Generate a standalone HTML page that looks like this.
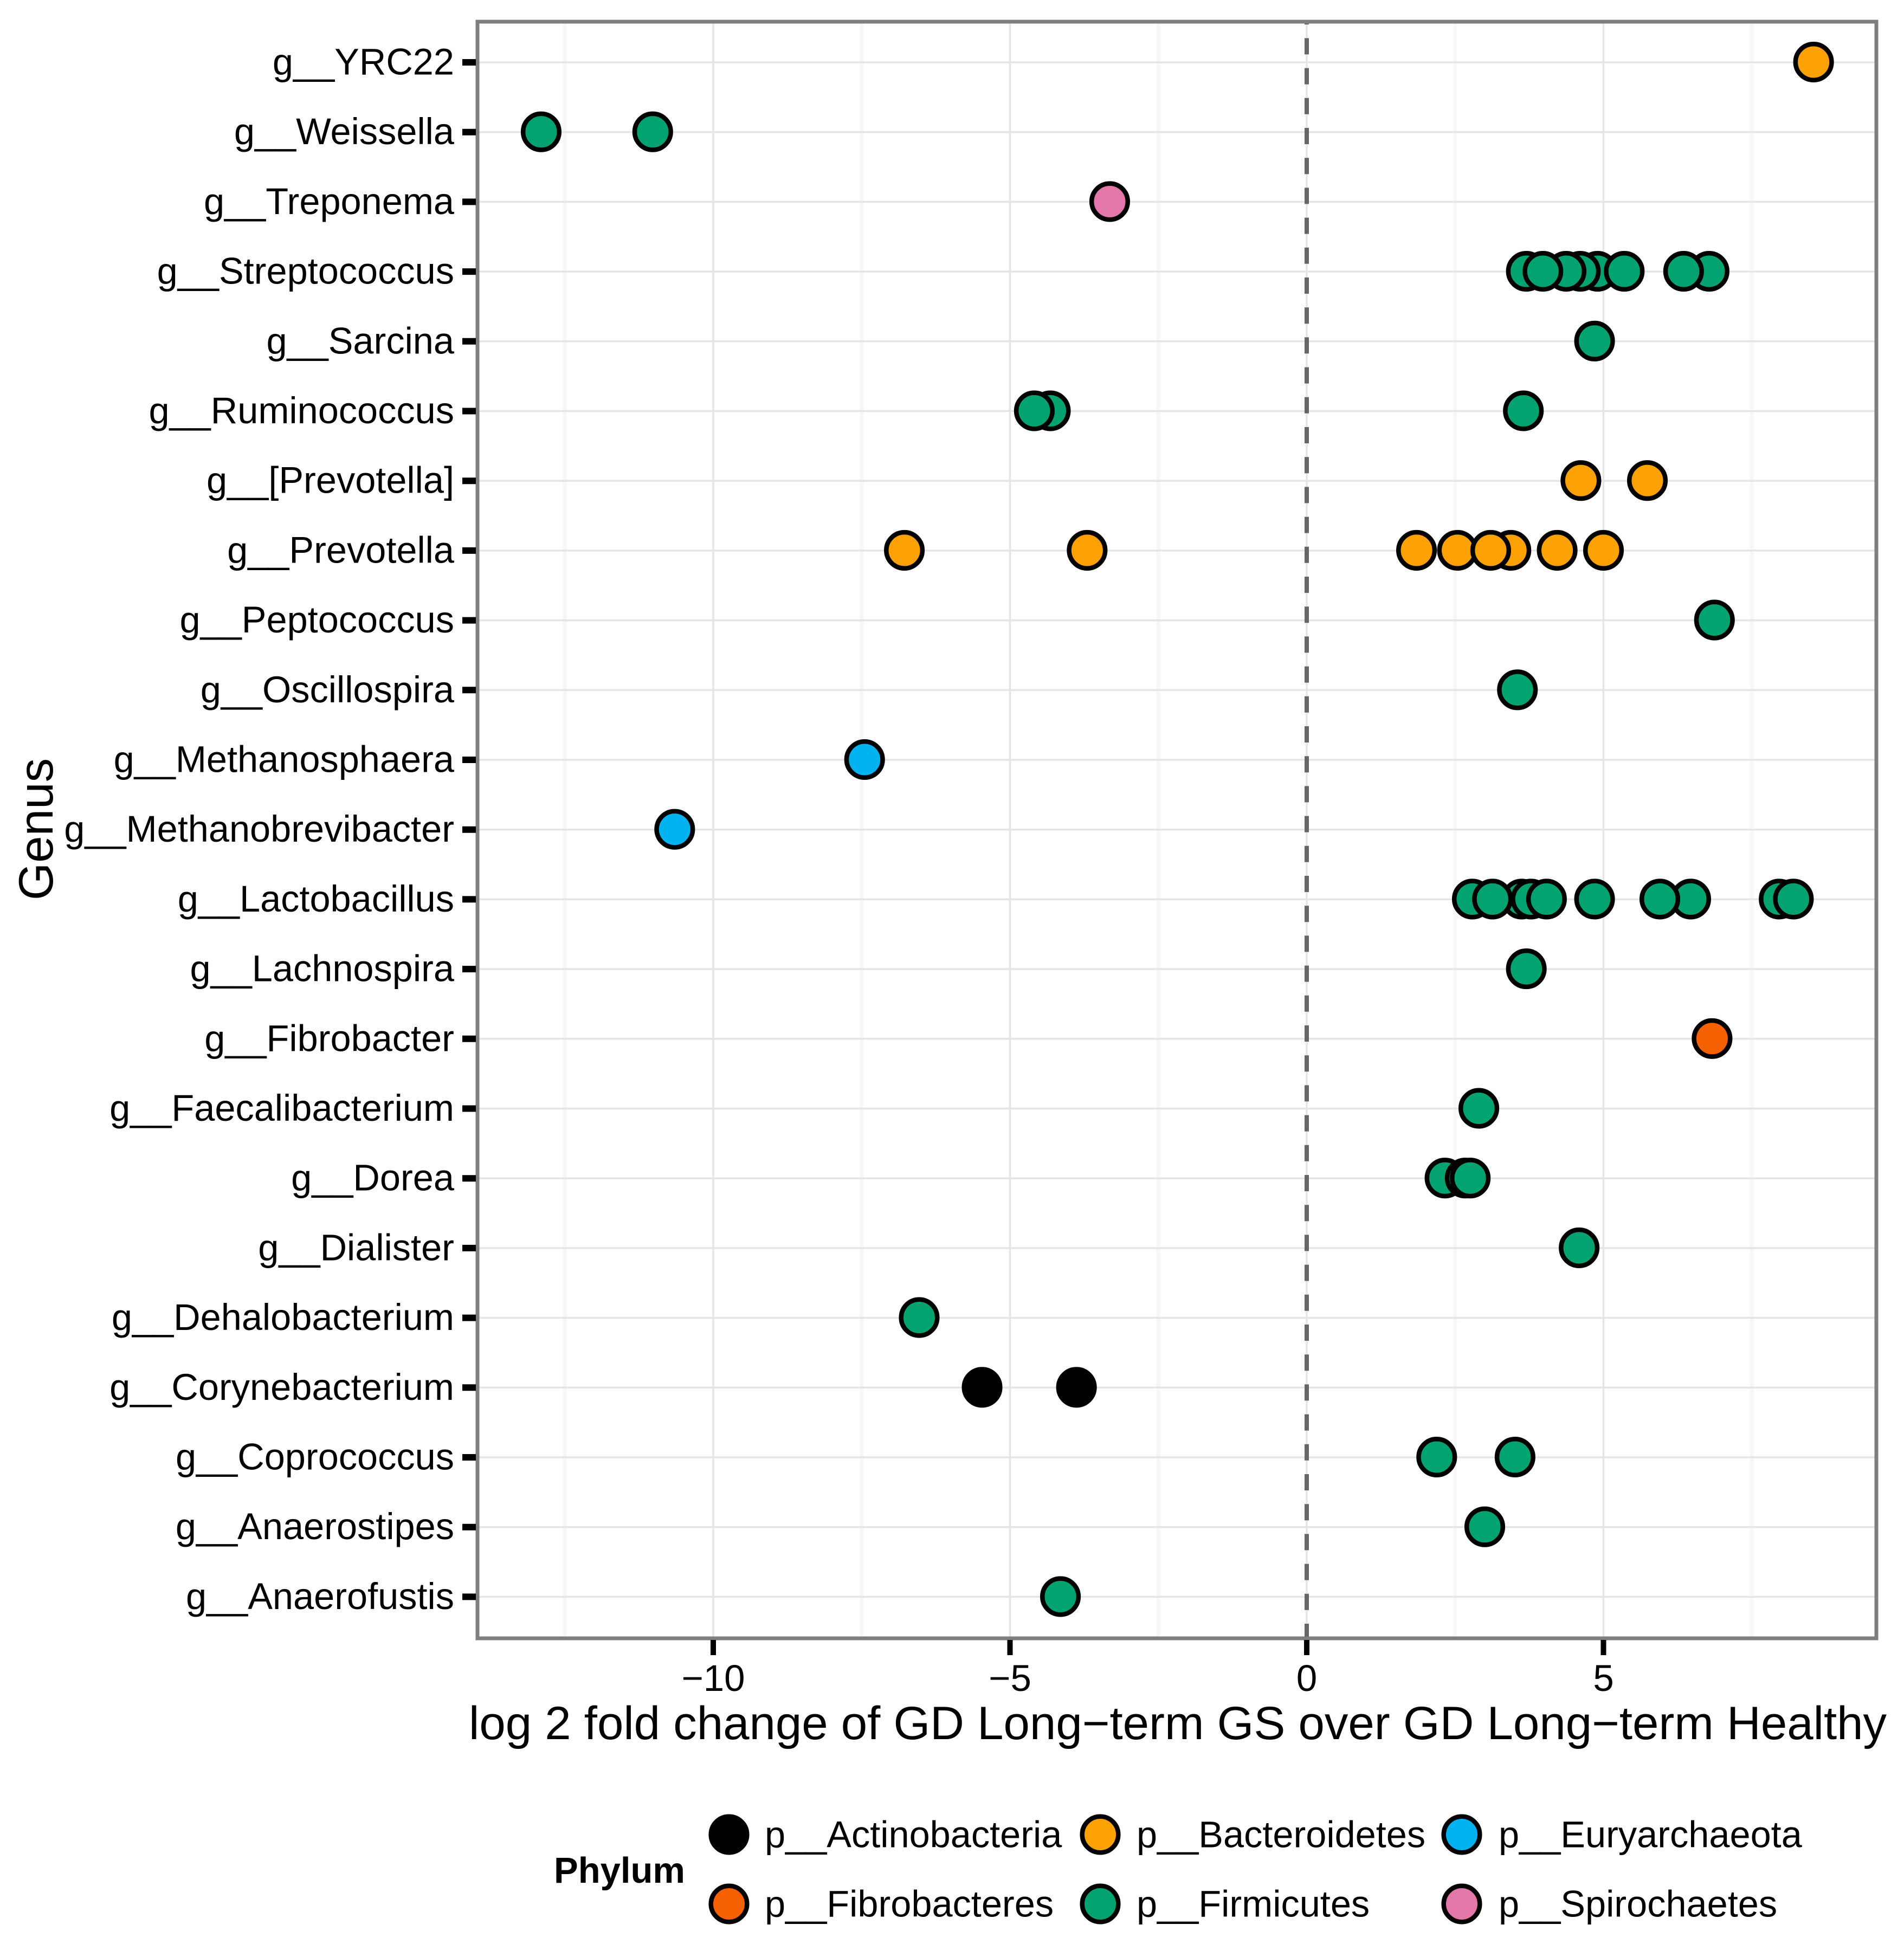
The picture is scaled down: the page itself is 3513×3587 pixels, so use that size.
<!DOCTYPE html>
<html lang="en">
<head>
<meta charset="utf-8">
<title>Log 2 fold change by genus</title>
<style>
html,body{margin:0;padding:0;background:#fff}
svg{display:block}
text{font-family:"Liberation Sans",sans-serif;fill:#000}
</style>
</head>
<body>
<svg id="chart" xmlns="http://www.w3.org/2000/svg" width="3513" height="3587" viewBox="0 0 3513 3587"></svg>
<script>
const genusLabels = ["g__YRC22","g__Weissella","g__Treponema","g__Streptococcus","g__Sarcina","g__Ruminococcus","g__[Prevotella]","g__Prevotella","g__Peptococcus","g__Oscillospira","g__Methanosphaera","g__Methanobrevibacter","g__Lactobacillus","g__Lachnospira","g__Fibrobacter","g__Faecalibacterium","g__Dorea","g__Dialister","g__Dehalobacterium","g__Corynebacterium","g__Coprococcus","g__Anaerostipes","g__Anaerofustis"];
const genusPhylum = [1,4,5,4,4,4,1,1,4,4,2,2,4,4,3,4,4,4,4,0,4,4,4];
const foldChanges = [
  [8.54],
  [-12.9,-11.02],
  [-3.32],
  [3.70,6.78,4.90,4.61,4.37,3.98,5.35,6.35],
  [4.85],
  [-4.32,-4.59,3.65],
  [4.62,5.74],
  [-6.78,-3.7,1.85,2.54,3.44,3.10,4.22,5.00],
  [6.87],
  [3.55],
  [-7.45],
  [-10.65],
  [2.79,3.62,3.13,3.78,4.04,4.85,6.47,5.95,7.96,8.20],
  [3.70],
  [6.83],
  [2.90],
  [2.33,2.67,2.755],
  [4.59],
  [-6.53],
  [-5.47,-3.88],
  [2.19,3.51],
  [3.0],
  [-4.15]
];
const phylumNames = ["p__Actinobacteria","p__Bacteroidetes","p__Euryarchaeota","p__Fibrobacteres","p__Firmicutes","p__Spirochaetes"];
const phylumColors = ["#000000","#FCA103","#00B3F0","#F56000","#03A271","#E377AA"];
const majorTicks = [-10,-5,0,5];
const majorTickLabels = ["\u221210","\u22125","0","5"];
const minorTicks = [-12.5,-7.5,-2.5,2.5,7.5];

const svg = document.getElementById('chart');
const NS = 'http://www.w3.org/2000/svg';
const panel = {left:881, right:3462, top:40, bottom:3023};
function xScale(v){ return 2411 + v*109.5; }
function yScale(i){ return 115 + i*128.7; }
function make(tag, attrs, parent){
  const el = document.createElementNS(NS, tag);
  for(const k in attrs){ el.setAttribute(k, attrs[k]); }
  (parent||svg).appendChild(el);
  return el;
}

// panel background
const panelBg = make('rect',{x:panel.left,y:panel.top,width:panel.right-panel.left,height:panel.bottom-panel.top,fill:'#ffffff'});



// minor grid
minorTicks.forEach(function(v){
  const g = make('line',{x1:xScale(v),x2:xScale(v),y1:panel.top,y2:panel.bottom,stroke:'#f7f7f7','stroke-width':7});
  
  
});
// major grid
majorTicks.forEach(function(v){
  const g = make('line',{x1:xScale(v),x2:xScale(v),y1:panel.top,y2:panel.bottom,stroke:'#e5e5e5','stroke-width':3.5});
  
  
});
genusLabels.forEach(function(label,i){
  const g = make('line',{x1:panel.left,x2:panel.right,y1:yScale(i),y2:yScale(i),stroke:'#e5e5e5','stroke-width':3.5});
  
  
});

// zero reference line
const zeroLine = make('line',{x1:xScale(0),x2:xScale(0),y1:panel.bottom+3,y2:panel.top,stroke:'#666666','stroke-width':8,'stroke-dasharray':'30 25.2'});



// points
foldChanges.forEach(function(vals,i){
  vals.forEach(function(v){
    const p = make('circle',{cx:xScale(v),cy:yScale(i)-0.5,r:33.3,fill:phylumColors[genusPhylum[i]],stroke:'#000000','stroke-width':8.5});
    
    
  });
});

// panel border
const border = make('rect',{x:panel.left,y:panel.top,width:panel.right-panel.left,height:panel.bottom-panel.top,fill:'none',stroke:'#7f7f7f','stroke-width':7});



// y axis
genusLabels.forEach(function(label,i){
  const t = make('line',{x1:853,x2:panel.left-3,y1:yScale(i),y2:yScale(i),stroke:'#000000','stroke-width':12});
  
  
  const l = make('text',{x:838,y:yScale(i)+22.5,'text-anchor':'end','font-size':68.5});
  l.textContent = label;
  
  
});

// x axis
majorTicks.forEach(function(v,i){
  const t = make('line',{x1:xScale(v),x2:xScale(v),y1:panel.bottom+3,y2:panel.bottom+31,stroke:'#000000','stroke-width':10});
  
  
  const l = make('text',{x:xScale(v),y:3120,'text-anchor':'middle','font-size':69});
  l.textContent = majorTickLabels[i];
  
  
});

// axis titles
const xTitle = make('text',{x:865,y:3209,'font-size':86,textLength:2616,lengthAdjust:'spacingAndGlyphs'});
xTitle.textContent = 'log 2 fold change of GD Long\u2212term GS over GD Long\u2212term Healthy';



const yTitle = make('text',{x:0,y:0,'font-size':89,'text-anchor':'middle',transform:'translate(97 1530) rotate(-90)'});
yTitle.textContent = 'Genus';



// legend
const legendTitle = make('text',{x:1022,y:3474,'font-size':67,'font-weight':'bold'});
legendTitle.textContent = 'Phylum';



const legendColX = [1345,2030,2697];
const legendTextX = [1411,2097,2765];
const legendRowY = [3385,3513];
phylumNames.forEach(function(name,i){
  const col = i % 3, row = Math.floor(i / 3);
  const k = make('circle',{cx:legendColX[col],cy:legendRowY[row],r:33.3,fill:phylumColors[i],stroke:'#000000','stroke-width':8.5});
  
  
  const t = make('text',{x:legendTextX[col],y:legendRowY[row]+23.5,'font-size':68.5});
  t.textContent = name;
  
  
});
</script>
</body>
</html>
